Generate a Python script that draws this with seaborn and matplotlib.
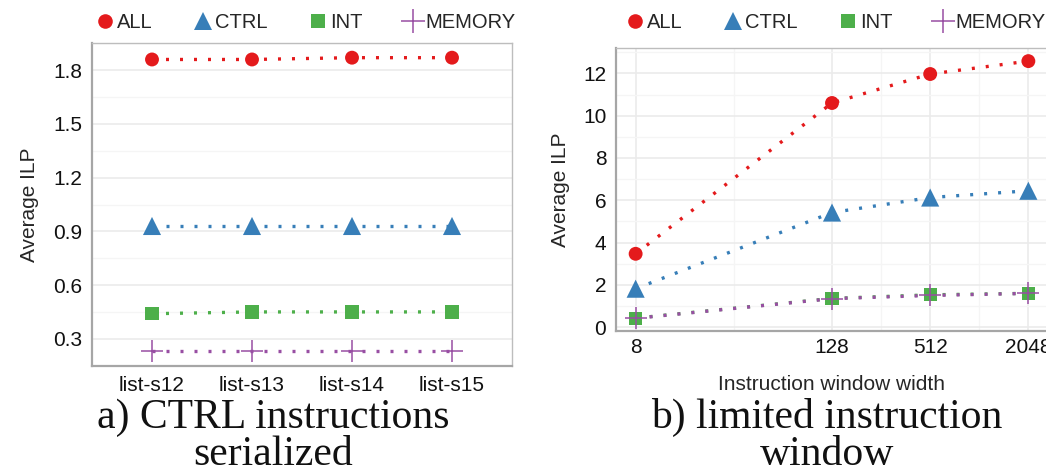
import matplotlib
matplotlib.use("Agg")
import matplotlib.pyplot as plt
import seaborn as sns
from matplotlib.lines import Line2D
from matplotlib.ticker import FixedLocator, NullFormatter


# Panel a) CTRL instructions serialized
benchmarks = ["list-s12", "list-s13", "list-s14", "list-s15"]
a_all = [1.86, 1.86, 1.87, 1.87]
a_ctrl = [0.93, 0.93, 0.93, 0.93]
a_int = [0.44, 0.45, 0.45, 0.45]
a_memory = [0.23, 0.23, 0.23, 0.23]

# Panel b) limited instruction window
window_widths = [8, 128, 512, 2048]
b_all = [3.47, 10.6, 11.97, 12.58]
b_ctrl = [1.82, 5.42, 6.13, 6.45]
b_int = [0.43, 1.36, 1.53, 1.6]
b_memory = [0.42, 1.35, 1.5, 1.6]

series_names = ["ALL", "CTRL", "INT", "MEMORY"]
colors = ["#E41A1C", "#377EB8", "#4DAF4A", "#984EA3"]
markers = ["o", "^", "s", "+"]
sizes = [100, 170, 90, 270]
legend_sizes = [10.5, 13, 9.5, 17]

W, H = 1046, 474


def px_box(left, right, top, bottom):
    """ Convert pixel box to figure fraction """
    return [left / W, (H - bottom) / H, (right - left) / W, (bottom - top) / H]


def style_axes(ax):
    """ ggplot-like panel look """
    ax.set_facecolor("white")
    for side in ["left", "bottom"]:
        ax.spines[side].set_color("#A6A6A6")
        ax.spines[side].set_linewidth(1.6)
    for side in ["top", "right"]:
        ax.spines[side].set_color("#BDBDBD")
        ax.spines[side].set_linewidth(1.0)
    ax.tick_params(which="major", length=4, width=1, color="#8C8C8C",
                   labelsize=15, labelcolor="#111111", pad=3)
    ax.tick_params(which="minor", length=0)
    ax.set_axisbelow(True)


def draw_panel(ax, x, values, legend_y):
    for ys, color, marker, size in zip(values, colors, markers, sizes):
        sns.lineplot(x=x, y=ys, ax=ax, color=color, linewidth=2.4,
                     linestyle=(0, (0.9, 3.3)), dash_capstyle="butt", legend=False, zorder=2)
        plus = marker == "+"
        sns.scatterplot(x=x, y=ys, ax=ax, color=color, marker=marker, s=size,
                        linewidth=1.1 if plus else 0, edgecolor=color if plus else "none",
                        legend=False, zorder=3)

    # Legend on top, markers only
    handles = [Line2D([], [], linestyle="none", marker=m, color=c, markersize=ms,
                      markeredgewidth=1.1 if m == "+" else 0)
               for m, c, ms in zip(markers, colors, legend_sizes)]
    ax.legend(handles, series_names, loc="center", bbox_to_anchor=(0.505, legend_y),
              ncol=4, frameon=False, fontsize=14.5, handletextpad=0.0,
              columnspacing=1.9, handlelength=1.2, borderaxespad=0)


sns.set_style("white")
plt.rcParams["font.family"] = ["Liberation Sans", "DejaVu Sans"]

fig = plt.figure(figsize=(W / 100, H / 100), dpi=100)

# Left panel
ax1 = fig.add_axes(px_box(92, 512, 43, 366))
style_axes(ax1)
draw_panel(ax1, benchmarks, [a_all, a_ctrl, a_int, a_memory], 1.0 + 20 / 323)
ax1.set_xlim(-0.6, 3.6)
ax1.set_ylim(0.148, 1.952)
ax1.set_yticks([0.3, 0.6, 0.9, 1.2, 1.5, 1.8])
ax1.set_yticklabels(["0.3", "0.6", "0.9", "1.2", "1.5", "1.8"])
ax1.yaxis.set_minor_locator(FixedLocator([0.15, 0.45, 0.75, 1.05, 1.35, 1.65, 1.95]))
ax1.grid(axis="y", which="major", color="#EBEBEB", linewidth=1.2)
ax1.grid(axis="y", which="minor", color="#F5F5F5", linewidth=1.0)
ax1.set_ylabel("Average ILP", fontsize=15)
ax1.yaxis.set_label_coords(-0.127, 0.5)
ax1.set_xlabel("")

# Right panel
ax2 = fig.add_axes(px_box(616, 1048, 48, 331))
style_axes(ax2)
draw_panel(ax2, window_widths, [b_all, b_ctrl, b_int, b_memory], 1.0 + 25 / 283)
ax2.set_xscale("log", base=2)
ax2.set_xlim(2 ** 2.6, 2 ** 11.4)
ax2.set_xticks(window_widths)
ax2.set_xticklabels([str(w) for w in window_widths])
ax2.xaxis.set_minor_locator(FixedLocator([32, 256, 1024]))
ax2.xaxis.set_minor_formatter(NullFormatter())
ax2.tick_params(axis="x", which="major", pad=1)
ax2.set_ylim(-0.18, 13.2)
ax2.set_yticks([0, 2, 4, 6, 8, 10, 12])
ax2.yaxis.set_minor_locator(FixedLocator([1, 3, 5, 7, 9, 11, 13]))
ax2.grid(which="major", color="#EBEBEB", linewidth=1.2)
ax2.grid(which="minor", color="#F5F5F5", linewidth=1.0)
ax2.set_ylabel("Average ILP", fontsize=15)
ax2.yaxis.set_label_coords(-0.107, 0.5)
ax2.set_xlabel("Instruction window width", fontsize=15)
ax2.xaxis.set_label_coords(216 / 432, -44 / 283)

# Captions
caption_font = dict(family=["Liberation Serif", "DejaVu Serif"], fontsize=30,
                    ha="center", va="baseline", color="#111111")
fig.text(273 / W, 1 - 428 / H, "a) CTRL instructions", **caption_font)
fig.text(273 / W, 1 - 465 / H, "serialized", **caption_font)
fig.text(827 / W, 1 - 428 / H, "b) limited instruction", **caption_font)
fig.text(827 / W, 1 - 465 / H, "window", **caption_font)

fig.savefig("out.png", dpi=100)
